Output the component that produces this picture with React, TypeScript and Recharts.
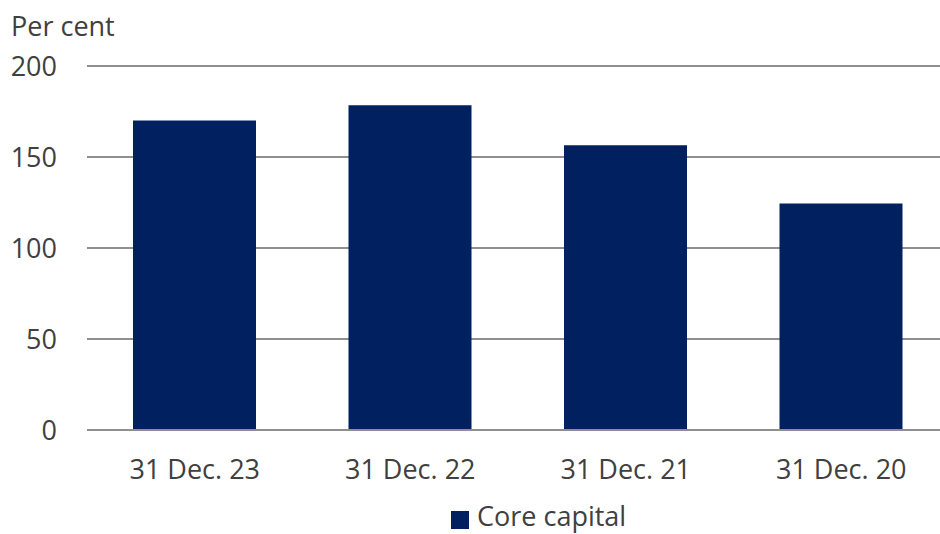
import { BarChart, Bar, XAxis, YAxis, CartesianGrid, Legend } from "recharts";

const categories = ["31 Dec. 23", "31 Dec. 22", "31 Dec. 21", "31 Dec. 20"];
const coreCapital = [170, 178.5, 156.5, 124.5];
const yTicks = [0, 50, 100, 150, 200];

const data = categories.map((name, i) => ({ name, core: coreCapital[i] }));

const FONT = "'Open Sans', 'Noto Sans', sans-serif";
const TEXT = "#404040";
const NAVY = "#002060";
const GRID = "#8f8f8f";

const LegendContent = () => (
    <div style={{ display: "flex", alignItems: "flex-start", fontFamily: FONT, fontSize: 27, color: TEXT }}>
        <span style={{ display: "inline-block", width: 18, height: 18, background: NAVY, marginTop: 14, marginRight: 8 }} />
        <span style={{ lineHeight: "normal", whiteSpace: "nowrap" }}>Core capital</span>
    </div>
);

export default function App() {
    return (
        <div style={{ position: "absolute", left: 0, top: 0, width: 940, height: 534, overflow: "hidden", background: "#fff" }}>
            <div style={{ position: "absolute", left: 11, top: 7, fontFamily: FONT, fontSize: 27, color: TEXT, lineHeight: "normal" }}>
                Per cent
            </div>
            <BarChart
                width={949}
                height={534}
                data={data}
                margin={{ top: 66, right: 0, bottom: 44, left: 0 }}
                barSize={123}
            >
                <CartesianGrid vertical={false} stroke={GRID} strokeWidth={2} />
                <XAxis
                    dataKey="name"
                    axisLine={{ stroke: GRID, strokeWidth: 2 }}
                    tickLine={false}
                    tickSize={0}
                    tickMargin={30}
                    height={60}
                    tick={{ fill: TEXT, fontSize: 27, fontFamily: FONT }}
                />
                <YAxis
                    domain={[0, 200]}
                    ticks={yTicks}
                    width={87}
                    axisLine={false}
                    tickLine={false}
                    tickSize={0}
                    tickMargin={30}
                    tick={{ fill: TEXT, fontSize: 27, fontFamily: FONT }}
                />
                <Legend
                    layout="horizontal"
                    verticalAlign="middle"
                    align="center"
                    content={<LegendContent />}
                    wrapperStyle={{ position: "absolute", top: 497, left: 451, width: "auto" }}
                />
                <Bar dataKey="core" name="Core capital" fill={NAVY} isAnimationActive={false} />
            </BarChart>
        </div>
    );
}
